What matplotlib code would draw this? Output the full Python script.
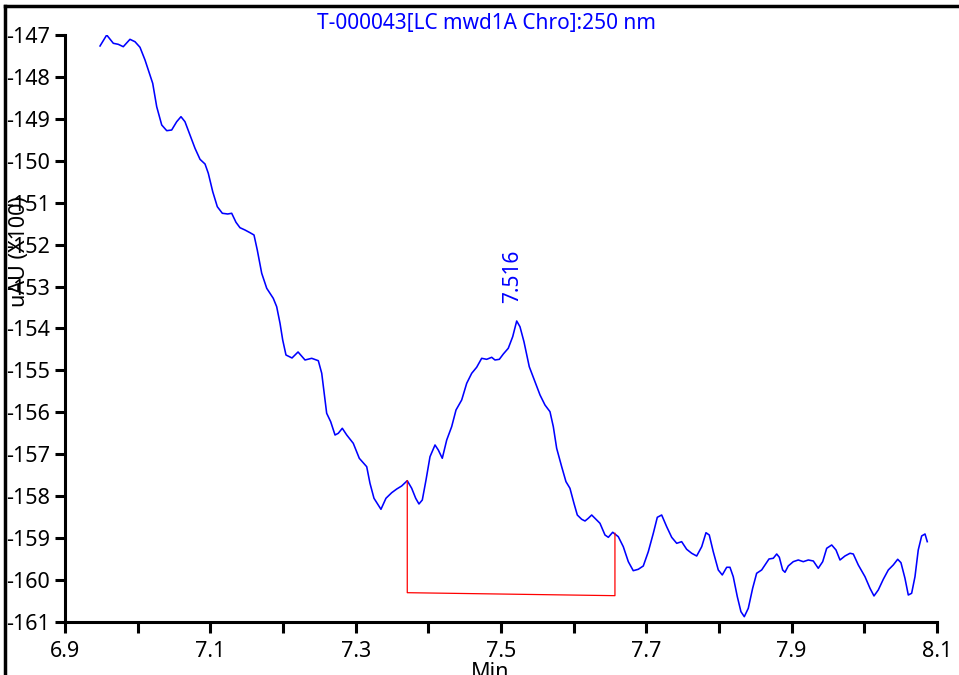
import matplotlib
matplotlib.use("Agg")
import matplotlib.pyplot as plt
from matplotlib.lines import Line2D
import numpy as np

plt.rcParams['font.family'] = ['Noto Sans', 'DejaVu Sans']

# Chromatogram trace (minutes, uAU x100)
time_min = [6.9482, 6.9574, 6.9665, 6.9733, 6.9802, 6.9894, 6.9963, 7.0032, 7.0101, 7.0146,
            7.0207, 7.0262, 7.0331, 7.0400, 7.0468, 7.0537, 7.0596, 7.0651, 7.0720, 7.0789,
            7.0858, 7.0927, 7.0972, 7.1033, 7.1096, 7.1165, 7.1239, 7.1294, 7.1353, 7.1408,
            7.1477, 7.1546, 7.1601, 7.1646, 7.1707, 7.1776, 7.1866, 7.1913, 7.1959, 7.1996,
            7.2041, 7.2124, 7.2207, 7.2303, 7.2395, 7.2486, 7.2533, 7.2601, 7.2656, 7.2716,
            7.2761, 7.2816, 7.2877, 7.2967, 7.3050, 7.3152, 7.3197, 7.3252, 7.3348, 7.3417,
            7.3496, 7.3565, 7.3633, 7.3710, 7.3771, 7.3826, 7.3871, 7.3917, 7.3968, 7.4023,
            7.4092, 7.4137, 7.4192, 7.4253, 7.4321, 7.4381, 7.4459, 7.4528, 7.4597, 7.4665,
            7.4734, 7.4803, 7.4872, 7.4917, 7.4977, 7.5032, 7.5100, 7.5161, 7.5216, 7.5261,
            7.5316, 7.5389, 7.5468, 7.5537, 7.5605, 7.5674, 7.5720, 7.5766, 7.5835, 7.5894,
            7.5949, 7.6004, 7.6050, 7.6110, 7.6156, 7.6201, 7.6248, 7.6293, 7.6362, 7.6431,
            7.6477, 7.6537, 7.6614, 7.6683, 7.6752, 7.6820, 7.6889, 7.6958, 7.7027, 7.7096,
            7.7151, 7.7211, 7.7280, 7.7349, 7.7418, 7.7486, 7.7555, 7.7624, 7.7693, 7.7762,
            7.7821, 7.7866, 7.7921, 7.7990, 7.8045, 7.8106, 7.8151, 7.8196, 7.8252, 7.8302,
            7.8348, 7.8403, 7.8463, 7.8518, 7.8587, 7.8633, 7.8688, 7.8747, 7.8794, 7.8830,
            7.8876, 7.8908, 7.8953, 7.9022, 7.9091, 7.9160, 7.9229, 7.9298, 7.9366, 7.9427,
            7.9482, 7.9551, 7.9610, 7.9665, 7.9734, 7.9803, 7.9848, 7.9917, 8.0009, 8.0078,
            8.0133, 8.0192, 8.0261, 8.0330, 8.0398, 8.0459, 8.0504, 8.0559, 8.0605, 8.0651,
            8.0697, 8.0742, 8.0789, 8.0835, 8.0866]
signal = [-147.262, -147.000, -147.198, -147.222, -147.279, -147.103, -147.160, -147.293, -147.596, -147.835,
          -148.153, -148.710, -149.146, -149.282, -149.266, -149.068, -148.948, -149.068, -149.385, -149.702,
          -149.965, -150.077, -150.298, -150.737, -151.095, -151.252, -151.269, -151.252, -151.467, -151.596,
          -151.651, -151.715, -151.770, -152.128, -152.683, -153.041, -153.280, -153.480, -153.876, -154.275,
          -154.632, -154.703, -154.560, -154.751, -154.711, -154.768, -155.068, -156.022, -156.222, -156.540,
          -156.499, -156.380, -156.540, -156.738, -157.096, -157.296, -157.692, -158.049, -158.312, -158.049,
          -157.916, -157.828, -157.756, -157.630, -157.811, -158.049, -158.185, -158.090, -157.613, -157.057,
          -156.778, -156.898, -157.095, -156.659, -156.342, -155.943, -155.705, -155.307, -155.068, -154.925,
          -154.711, -154.735, -154.687, -154.751, -154.735, -154.608, -154.472, -154.195, -153.821, -153.957,
          -154.315, -154.911, -155.269, -155.586, -155.824, -155.984, -156.342, -156.857, -157.296, -157.653,
          -157.811, -158.169, -158.448, -158.550, -158.591, -158.527, -158.448, -158.527, -158.646, -158.925,
          -158.980, -158.860, -158.965, -159.204, -159.561, -159.776, -159.743, -159.664, -159.323, -158.884,
          -158.503, -158.448, -158.727, -158.980, -159.123, -159.084, -159.266, -159.361, -159.426, -159.204,
          -158.870, -158.925, -159.323, -159.759, -159.878, -159.695, -159.695, -159.919, -160.396, -160.754,
          -160.873, -160.673, -160.196, -159.838, -159.759, -159.640, -159.497, -159.480, -159.378, -159.456,
          -159.759, -159.814, -159.664, -159.561, -159.521, -159.561, -159.521, -159.545, -159.719, -159.561,
          -159.242, -159.163, -159.282, -159.521, -159.425, -159.361, -159.378, -159.640, -159.919, -160.196,
          -160.379, -160.236, -159.981, -159.759, -159.640, -159.504, -159.585, -159.957, -160.356, -160.315,
          -159.919, -159.282, -158.948, -158.901, -159.084]

# Integration baseline of the peak
peak_start_t = 7.3710
peak_end_t = 7.6568
peak_start_top = -157.630
peak_end_top = -158.884
baseline_start = -160.301
baseline_end = -160.372

peak_rt = 7.516
peak_label = "7.516"
peak_height = -153.821

title_text = "T-000043[LC mwd1A Chro]:250 nm"
x_major = [6.9, 7.1, 7.3, 7.5, 7.7, 7.9, 8.1]
x_minor = [7.0, 7.2, 7.4, 7.6, 7.8, 8.0]
y_ticks = list(range(-161, -146))

fig = plt.figure(figsize=(9.59, 6.75), dpi=100)
ax = fig.add_axes([65/959, 1-622/675, (937-65)/959, (622-35)/675])

ax.plot(time_min, signal, color='#0000ff', lw=1.15, solid_joinstyle='round')
ax.plot([peak_start_t, peak_start_t, peak_end_t, peak_end_t],
        [peak_start_top, baseline_start, baseline_end, peak_end_top],
        color='#ff0000', lw=0.9)

ax.annotate(peak_label, xy=(peak_rt, peak_height), xytext=(0, 13),
            textcoords='offset points', rotation=90, ha='center', va='bottom',
            color='#0000ff', fontsize=15)

ax.set_xlim(6.9, 8.1)
ax.set_ylim(-161, -147)
ax.set_xticks(x_major)
ax.set_xticklabels([f"{v:.1f}" for v in x_major])
ax.set_xticks(x_minor, minor=True)
ax.set_yticks(y_ticks)
ax.set_yticklabels([str(v) for v in y_ticks])

for s in ['top', 'right']:
    ax.spines[s].set_visible(False)
for s in ['left', 'bottom']:
    ax.spines[s].set_linewidth(2.2)

ax.tick_params(axis='both', which='both', direction='out', width=2.2, labelsize=15.5)
ax.tick_params(axis='y', length=7, pad=4)
ax.tick_params(axis='x', which='both', length=8, pad=6)

fig.text(486/959, 1-23/675, title_text, color='#0000ff', fontsize=15,
         ha='center', va='center')
fig.text(20/959, 1-252/675, "uAU (X100)", rotation=90, ha='center', va='center',
         fontsize=15.5)
fig.text(490/959, 1-662/675, "Min", ha='center', va='top', fontsize=15.5)

# outer frame
fig.add_artist(Line2D([5/959, 1.0], [1-6/675, 1-6/675], transform=fig.transFigure,
                      color='black', lw=2.5))
fig.add_artist(Line2D([5/959, 5/959], [0.0, 1-6/675], transform=fig.transFigure,
                      color='black', lw=2.5))

fig.savefig("out.png", dpi=100)
